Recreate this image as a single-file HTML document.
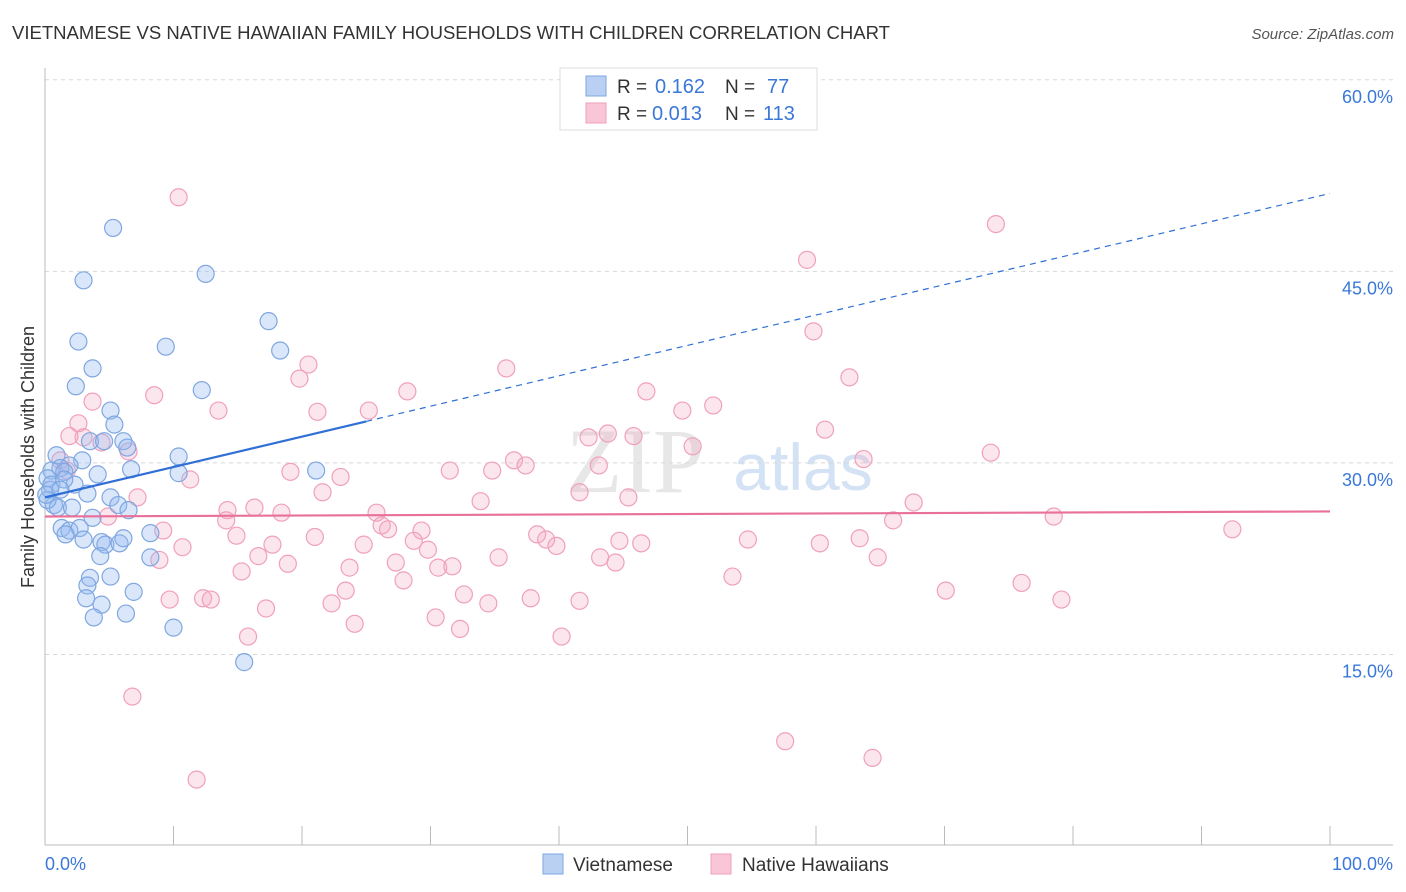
<!DOCTYPE html>
<html><head><meta charset="utf-8"><style>
body{margin:0;background:#fff;font-family:"Liberation Sans",sans-serif;}
svg{display:block}
</style></head><body>
<svg id="chart" width="1406" height="892">
<text x="12" y="39" font-size="18.5" fill="#333" textLength="878" lengthAdjust="spacingAndGlyphs">VIETNAMESE VS NATIVE HAWAIIAN FAMILY HOUSEHOLDS WITH CHILDREN CORRELATION CHART</text>
<text x="1394" y="39" font-size="15" fill="#555" font-style="italic" text-anchor="end">Source: ZipAtlas.com</text>
<text transform="translate(34,457) rotate(-90)" font-size="18" fill="#333" text-anchor="middle">Family Households with Children</text>
<g>
<text x="635" y="492" font-size="92" fill="#ddd" font-family="Liberation Serif,serif" text-anchor="middle" opacity="0.7">ZIP</text>
<text x="803" y="490" font-size="66" fill="#c9dbf2" text-anchor="middle" opacity="0.8">atlas</text>
</g>
<g id="grid"></g><g id="axes"></g><g id="pts"></g><g id="trend"></g>
<g>
<rect x="560" y="68" width="257" height="62" fill="#fff" stroke="#ddd"/>
<rect x="586" y="76" width="20" height="20" fill="#b9d0f3" stroke="#7fa7e0"/>
<rect x="586" y="103" width="20" height="20" fill="#f8c6d6" stroke="#f0a0bb"/>
<text y="93" font-size="19" fill="#333"><tspan x="617">R =</tspan><tspan x="655" fill="#3a78d8" font-size="20">0.162</tspan><tspan x="725">N =</tspan><tspan x="767" fill="#3a78d8" font-size="20">77</tspan></text>
<text y="120" font-size="19" fill="#333"><tspan x="617">R =</tspan><tspan x="652" fill="#3a78d8" font-size="20">0.013</tspan><tspan x="725">N =</tspan><tspan x="763" fill="#3a78d8" font-size="20">113</tspan></text>
</g>
<g>
<rect x="543" y="854" width="20" height="20" fill="#b9d0f3" stroke="#7fa7e0"/>
<text x="573" y="871" font-size="19" fill="#333">Vietnamese</text>
<rect x="711" y="854" width="20" height="20" fill="#f8c6d6" stroke="#f0a0bb"/>
<text x="742" y="871" font-size="19" fill="#333">Native Hawaiians</text>
</g>
</svg>
<script>
const yTicks=[15,30,45,60];
const yTickLabels=["15.0%","30.0%","45.0%","60.0%"];
const xTicks=[0,10,20,30,40,50,60,70,80,90,100];
const xEndLabels=["0.0%","100.0%"];
const blueX=[5.3,3.0,12.5,2.6,17.4,9.4,18.3,3.7,2.4,12.2,5.1,5.4,3.5,4.6,6.1,6.4,2.9,0.9,1.9,1.2,0.5,0.2,1.5,4.1,6.7,10.4,10.4,21.1,2.3,0.4,3.3,5.1,5.7,6.5,3.7,0.7,1.0,2.1,1.3,1.9,2.7,1.6,3.0,4.4,4.7,5.8,6.1,8.2,4.3,8.2,5.1,3.5,3.3,3.2,4.4,6.9,3.8,6.3,10.0,15.5,0.2,0.5,0.1,1.5,1.2];
const blueY=[48.4,44.3,44.8,39.5,41.1,39.1,38.8,37.4,36.0,35.7,34.1,33.0,31.7,31.7,31.7,31.2,30.2,30.6,29.8,29.6,29.4,28.8,29.3,29.1,29.5,30.5,29.2,29.4,28.3,27.9,27.6,27.3,26.7,26.3,25.7,26.7,26.5,26.5,24.9,24.7,24.9,24.4,24.0,23.8,23.6,23.7,24.1,24.5,22.7,22.6,21.1,21.0,20.4,19.4,18.9,19.9,17.9,18.2,17.1,14.4,27.1,28.3,27.5,28.7,27.9];
const pinkX=[10.4,74.0,59.3,59.8,62.6,20.5,19.8,35.9,28.2,46.8,8.5,3.7,13.5,21.2,25.2,52.0,49.6,60.7,2.6,1.9,4.4,6.5,42.3,43.8,45.8,50.4,63.7,73.6,36.5,37.4,31.5,34.8,19.1,23.0,43.1,11.3,21.6,7.2,41.6,45.4,33.9,67.6,14.2,16.3,18.4,25.8,14.1,26.2,26.7,9.2,14.9,21.0,29.3,28.7,29.8,38.3,39.0,39.8,24.8,17.7,10.7,8.9,16.6,18.9,23.7,27.3,30.6,31.7,35.3,43.2,44.4,44.7,46.4,54.7,60.3,63.4,66.0,78.5,92.4,64.8,15.3,27.9,53.5,76.0,70.1,79.1,23.4,22.3,32.6,34.5,37.8,41.6,9.7,12.3,12.9,17.2,30.4,24.1,32.3,40.2,15.8,6.8,57.6,64.4,11.8,4.9,3.0,1.7,1.2];
const pinkY=[50.8,48.7,45.9,40.3,36.7,37.7,36.6,37.4,35.6,35.6,35.3,34.8,34.1,34.0,34.1,34.5,34.1,32.6,33.1,32.1,31.6,30.9,32.0,32.3,32.1,31.3,30.3,30.8,30.2,29.8,29.4,29.4,29.3,28.9,29.8,28.7,27.7,27.3,27.7,27.3,27.0,26.9,26.3,26.5,26.1,26.1,25.5,25.1,24.8,24.7,24.3,24.2,24.7,23.9,23.2,24.4,24.0,23.5,23.6,23.6,23.4,22.4,22.7,22.1,21.8,22.2,21.8,21.9,22.6,22.6,22.2,23.9,23.7,24.0,23.7,24.1,25.5,25.8,24.8,22.6,21.5,20.8,21.1,20.6,20.0,19.3,20.0,19.0,19.7,19.0,19.4,19.2,19.3,19.4,19.3,18.6,17.9,17.4,17.0,16.4,16.4,11.7,8.2,6.9,5.2,25.8,32.0,29.4,30.2];
const blueTrend=[27.3,51.1];
const pinkTrend=[25.8,26.2];
const blueSolidEnd=25;

const NS="http://www.w3.org/2000/svg";
const X=v=>45+v*12.85;
const Y=v=>846-v*12.77;
function mk(tag,attrs,parent){const e=document.createElementNS(NS,tag);for(const k in attrs)e.setAttribute(k,attrs[k]);parent.appendChild(e);return e;}
const grid=document.getElementById('grid'),axes=document.getElementById('axes'),pts=document.getElementById('pts'),trend=document.getElementById('trend');
yTicks.forEach((t,i)=>{
 const l=mk('line',{x1:45,x2:1393,y1:Y(t),y2:Y(t),stroke:'#d8d8d8','stroke-dasharray':'4,4'},grid);
 
 
 const tx=mk('text',{x:1393,y:Y(t)+23,'font-size':18,fill:'#3a78d8','text-anchor':'end'},grid);
 tx.textContent=yTickLabels[i];
 
 
});
const ax=mk('line',{x1:45,x2:1393,y1:845,y2:845,stroke:'#bbb'},axes);


const ay=mk('line',{x1:45,x2:45,y1:68,y2:845,stroke:'#bbb'},axes);


xTicks.forEach(t=>{
 const l=mk('line',{x1:X(t),x2:X(t),y1:826,y2:845,stroke:'#bbb'},axes);
 
 
});
[[0,'start',45],[100,'end',1393]].forEach((d,i)=>{
 const tx=mk('text',{x:d[2],y:870,'font-size':18,fill:'#3a78d8','text-anchor':d[1]},axes);
 tx.textContent=xEndLabels[i];
 
 
});
pinkX.forEach((x,i)=>{
 const c=mk('circle',{cx:X(x),cy:Y(pinkY[i]),r:8.5,fill:'rgba(245,165,192,0.28)',stroke:'#f0a0bb','stroke-width':1.2},pts);
 
 
});
blueX.forEach((x,i)=>{
 const c=mk('circle',{cx:X(x),cy:Y(blueY[i]),r:8.5,fill:'rgba(150,185,240,0.35)',stroke:'#7fa7e0','stroke-width':1.2},pts);
 
 
});
const bY=x=>blueTrend[0]+(blueTrend[1]-blueTrend[0])*x/100;
const b1=mk('line',{x1:X(0),y1:Y(bY(0)),x2:X(blueSolidEnd),y2:Y(bY(blueSolidEnd)),stroke:'#2f6fd6','stroke-width':2.2},trend);


const b2=mk('line',{x1:X(blueSolidEnd),y1:Y(bY(blueSolidEnd)),x2:X(100),y2:Y(bY(100)),stroke:'#2f6fd6','stroke-width':1.2,'stroke-dasharray':'6,5'},trend);


const p1=mk('line',{x1:X(0),y1:Y(pinkTrend[0]),x2:X(100),y2:Y(pinkTrend[1]),stroke:'#e8709a','stroke-width':2.2},trend);


</script>
</body></html>
